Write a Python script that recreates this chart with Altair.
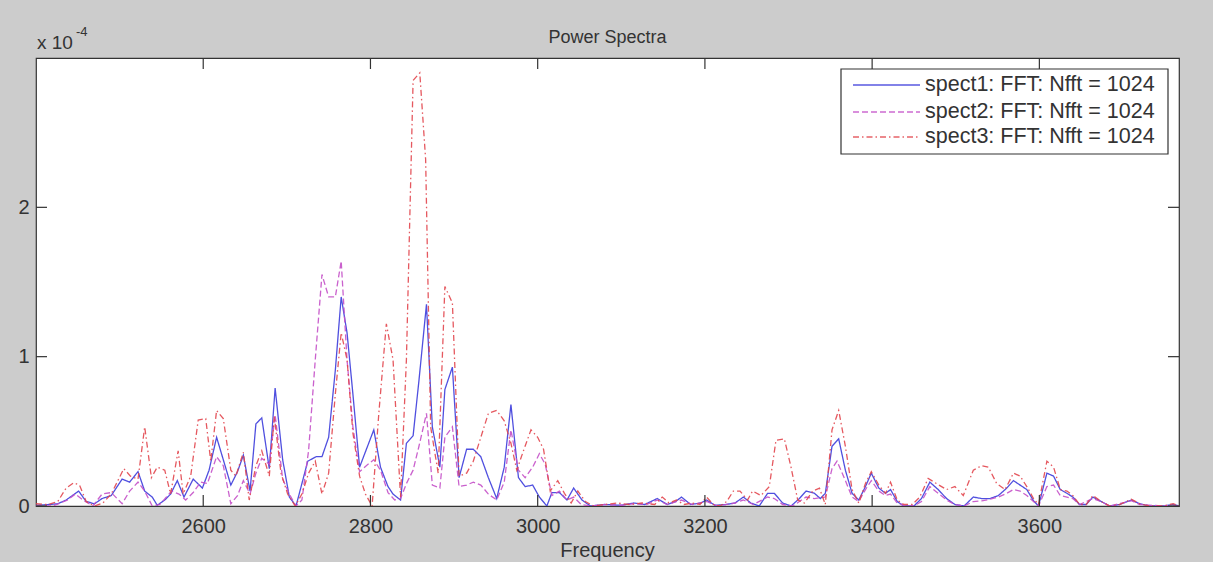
import altair as alt
import pandas as pd

# ---- data (power in units of 1e-4) ----
s1_freq = [2400, 2415, 2426, 2436, 2451, 2460, 2470, 2479, 2490, 2503, 2512, 2522, 2530, 2539, 2545, 2554,
           2561, 2569, 2577, 2588, 2599, 2607, 2616, 2624, 2633, 2641, 2648, 2656, 2663, 2670, 2679, 2686,
           2695, 2703, 2711, 2725, 2735, 2742, 2750, 2758, 2765, 2772, 2779, 2787, 2804, 2812, 2821, 2827,
           2836, 2843, 2851, 2858, 2867, 2874, 2883, 2889, 2898, 2906, 2915, 2923, 2932, 2941, 2951, 2960,
           2968, 2977, 2985, 2994, 3002, 3011, 3017, 3026, 3035, 3043, 3053, 3063, 3080, 3100, 3115, 3128,
           3143, 3155, 3165, 3172, 3183, 3195, 3202, 3212, 3225, 3236, 3246, 3255, 3265, 3275, 3283, 3293,
           3303, 3313, 3321, 3331, 3338, 3344, 3352, 3360, 3368, 3376, 3384, 3392, 3399, 3408, 3416, 3422,
           3430, 3438, 3450, 3459, 3469, 3479, 3489, 3499, 3510, 3521, 3531, 3541, 3551, 3561, 3569, 3577,
           3585, 3593, 3599, 3609, 3617, 3625, 3633, 3640, 3648, 3656, 3664, 3674, 3684, 3696, 3710, 3720,
           3732, 3748, 3760, 3767]
s1_val = [0.005, 0.01, 0.015, 0.04, 0.1, 0.03, 0.015, 0.05, 0.07, 0.18, 0.16, 0.23, 0.1, 0.06, 0.005, 0.04,
          0.08, 0.17, 0.06, 0.18, 0.12, 0.24, 0.46, 0.31, 0.14, 0.23, 0.34, 0.1, 0.55, 0.59, 0.25, 0.79,
          0.31, 0.06, 0.0, 0.3, 0.33, 0.33, 0.46, 0.91, 1.4, 1.16, 0.75, 0.26, 0.51, 0.26, 0.13, 0.08,
          0.04, 0.42, 0.47, 0.84, 1.35, 0.53, 0.26, 0.78, 0.93, 0.19, 0.38, 0.38, 0.33, 0.19, 0.05, 0.26,
          0.68, 0.19, 0.13, 0.14, 0.06, 0.0, 0.09, 0.09, 0.04, 0.12, 0.04, 0.0, 0.01, 0.005, 0.02, 0.01,
          0.05, 0.01, 0.03, 0.06, 0.01, 0.02, 0.04, 0.005, 0.01, 0.02, 0.06, 0.02, 0.0, 0.085, 0.085, 0.02,
          0.0, 0.05, 0.1, 0.085, 0.05, 0.085, 0.4, 0.45, 0.24, 0.085, 0.04, 0.13, 0.22, 0.12, 0.085, 0.11,
          0.03, 0.0, 0.0, 0.05, 0.16, 0.11, 0.05, 0.01, 0.0, 0.06, 0.05, 0.05, 0.07, 0.12, 0.17, 0.14,
          0.11, 0.035, 0.0, 0.22, 0.2, 0.11, 0.085, 0.06, 0.01, 0.01, 0.06, 0.03, 0.0, 0.01, 0.04, 0.015,
          0.0, 0.0, 0.01, 0.0]

s2_freq = [2400, 2420, 2438, 2447, 2456, 2468, 2479, 2490, 2503, 2512, 2522, 2530, 2539, 2548, 2556, 2562,
           2571, 2579, 2588, 2597, 2605, 2616, 2624, 2633, 2641, 2648, 2656, 2663, 2670, 2679, 2686, 2695,
           2703, 2711, 2718, 2726, 2734, 2742, 2750, 2758, 2765, 2772, 2779, 2787, 2795, 2804, 2812, 2821,
           2829, 2836, 2843, 2851, 2858, 2867, 2874, 2883, 2889, 2898, 2906, 2915, 2923, 2932, 2941, 2951,
           2960, 2968, 2977, 2985, 2994, 3002, 3009, 3017, 3026, 3035, 3043, 3052, 3063, 3080, 3100, 3115,
           3130, 3143, 3155, 3172, 3185, 3202, 3215, 3236, 3246, 3258, 3275, 3283, 3293, 3305, 3313, 3321,
           3331, 3344, 3352, 3358, 3368, 3376, 3384, 3392, 3399, 3408, 3416, 3422, 3430, 3440, 3450, 3459,
           3469, 3479, 3489, 3499, 3510, 3521, 3531, 3541, 3551, 3561, 3569, 3577, 3585, 3593, 3599, 3609,
           3617, 3625, 3633, 3640, 3648, 3664, 3674, 3684, 3710, 3720, 3748, 3767]
s2_val = [0.0, 0.0, 0.04, 0.08, 0.04, 0.0, 0.08, 0.09, 0.015, 0.1, 0.16, 0.1, 0.0, 0.01, 0.06, 0.1,
          0.08, 0.04, 0.09, 0.16, 0.15, 0.33, 0.27, 0.015, 0.07, 0.17, 0.08, 0.22, 0.32, 0.28, 0.61, 0.18,
          0.08, 0.0, 0.04, 0.37, 0.98, 1.55, 1.4, 1.4, 1.64, 0.98, 0.53, 0.23, 0.27, 0.31, 0.24, 0.09,
          0.04, 0.05, 0.15, 0.24, 0.4, 0.62, 0.14, 0.12, 0.46, 0.53, 0.13, 0.14, 0.16, 0.14, 0.08, 0.04,
          0.16, 0.51, 0.24, 0.19, 0.26, 0.35, 0.28, 0.07, 0.1, 0.04, 0.06, 0.01, 0.0, 0.01, 0.005, 0.015,
          0.01, 0.04, 0.01, 0.04, 0.01, 0.03, 0.0, 0.02, 0.04, 0.01, 0.06, 0.05, 0.01, 0.0, 0.03, 0.06,
          0.05, 0.06, 0.25, 0.3, 0.17, 0.06, 0.03, 0.11, 0.17, 0.1, 0.07, 0.08, 0.02, 0.0, 0.0, 0.03,
          0.13, 0.085, 0.04, 0.01, 0.0, 0.03, 0.035, 0.045, 0.06, 0.085, 0.11, 0.1, 0.07, 0.03, 0.0, 0.13,
          0.14, 0.07, 0.06, 0.05, 0.01, 0.05, 0.03, 0.0, 0.035, 0.01, 0.0, 0.0]

s3_freq = [2400, 2415, 2426, 2436, 2445, 2452, 2460, 2470, 2480, 2490, 2505, 2513, 2522, 2530, 2538, 2545,
           2554, 2561, 2570, 2576, 2585, 2594, 2603, 2609, 2616, 2624, 2633, 2639, 2648, 2655, 2663, 2670,
           2679, 2685, 2693, 2701, 2710, 2718, 2726, 2734, 2742, 2750, 2758, 2765, 2772, 2779, 2787, 2794,
           2802, 2810, 2819, 2827, 2836, 2843, 2851, 2859, 2866, 2872, 2881, 2889, 2898, 2906, 2915, 2923,
           2932, 2941, 2951, 2960, 2968, 2975, 2983, 2992, 3000, 3007, 3015, 3024, 3032, 3040, 3048, 3057,
           3067, 3080, 3095, 3110, 3125, 3140, 3149, 3157, 3166, 3175, 3185, 3194, 3202, 3210, 3218, 3226,
           3234, 3242, 3251, 3257, 3267, 3277, 3285, 3295, 3303, 3311, 3319, 3329, 3337, 3344, 3352, 3360,
           3368, 3376, 3384, 3392, 3399, 3408, 3416, 3422, 3430, 3438, 3448, 3457, 3467, 3477, 3489, 3499,
           3509, 3521, 3531, 3539, 3549, 3559, 3569, 3577, 3585, 3593, 3599, 3609, 3617, 3625, 3633, 3640,
           3648, 3656, 3664, 3674, 3684, 3696, 3710, 3720, 3732, 3748, 3760, 3767]
s3_val = [0.015, 0.01, 0.03, 0.12, 0.155, 0.14, 0.03, 0.0, 0.02, 0.08, 0.25, 0.2, 0.18, 0.53, 0.19, 0.26,
          0.24, 0.08, 0.37, 0.08, 0.2, 0.575, 0.585, 0.3, 0.64, 0.585, 0.24, 0.2, 0.36, 0.04, 0.27, 0.37,
          0.2, 0.6, 0.22, 0.08, 0.0, 0.08, 0.22, 0.3, 0.08, 0.22, 0.75, 1.16, 0.98, 0.49, 0.2, 0.08,
          0.0, 0.62, 1.22, 0.98, 0.06, 0.98, 2.85, 2.9, 2.32, 0.53, 0.22, 1.47, 1.36, 0.2, 0.22, 0.3,
          0.46, 0.62, 0.64, 0.57, 0.42, 0.24, 0.37, 0.51, 0.46, 0.38, 0.1, 0.17, 0.085, 0.02, 0.1, 0.03,
          0.0, 0.01, 0.02, 0.01, 0.02, 0.01, 0.06, 0.02, 0.04, 0.01, 0.02, 0.01, 0.06, 0.01, 0.0, 0.03,
          0.1, 0.1, 0.04, 0.1, 0.07, 0.13, 0.44, 0.45, 0.26, 0.04, 0.02, 0.1, 0.12, 0.01, 0.51, 0.64,
          0.4, 0.11, 0.02, 0.15, 0.23, 0.14, 0.085, 0.16, 0.04, 0.01, 0.01, 0.06, 0.185, 0.15, 0.11, 0.13,
          0.07, 0.24, 0.27, 0.26, 0.15, 0.11, 0.22, 0.2, 0.13, 0.05, 0.01, 0.3, 0.26, 0.11, 0.1, 0.07,
          0.01, 0.01, 0.07, 0.03, 0.0, 0.01, 0.045, 0.015, 0.0, 0.0, 0.015, 0.0]

labels = ["spect1: FFT: Nfft = 1024", "spect2: FFT: Nfft = 1024", "spect3: FFT: Nfft = 1024"]
colors = ["#3c3cdc", "#c450c8", "#e2464e"]
dashes = [[1, 0], [6, 3], [6, 3, 1.5, 3]]
x_ticks = [2600, 2800, 3000, 3200, 3400, 3600]
y_ticks = [0, 1, 2]

rows = []
for lab, fs, vs in zip(labels, [s1_freq, s2_freq, s3_freq], [s1_val, s2_val, s3_val]):
    for f, v in zip(fs, vs):
        rows.append({"freq": f, "power": v, "series": lab})
df = pd.DataFrame(rows)

W, H = 1143, 448
FONT = "Liberation Sans"
TXT = "#333333"

xscale = alt.Scale(domain=[2400, 3767], nice=False, zero=False)
yscale = alt.Scale(domain=[0, 3], nice=False, zero=True)

lines = alt.Chart(df).mark_line(strokeWidth=1.3, clip=True, opacity=0.9).encode(
    x=alt.X("freq:Q", scale=xscale,
            axis=alt.Axis(values=x_ticks, title=None, grid=False, ticks=False, tickSize=0, domain=False,
                          labelFontSize=20, labelColor=TXT, labelFont=FONT, labelPadding=10, format="d")),
    y=alt.Y("power:Q", scale=yscale,
            axis=alt.Axis(values=y_ticks, title=None, grid=False, ticks=False, tickSize=0, domain=False,
                          labelFontSize=20, labelColor=TXT, labelFont=FONT, labelPadding=7, format="d")),
    color=alt.Color("series:N", scale=alt.Scale(domain=labels, range=colors), legend=None),
    strokeDash=alt.StrokeDash("series:N", scale=alt.Scale(domain=labels, range=dashes), legend=None),
    detail="series:N",
)

xt = pd.DataFrame({"t": x_ticks})
yt = pd.DataFrame({"t": y_ticks})
TK = 11
tick_col = "#333333"
top_t = alt.Chart(xt).mark_rule(color=tick_col, strokeWidth=1.2).encode(
    x=alt.X("t:Q", scale=xscale), y=alt.value(0), y2=alt.value(TK))
bot_t = alt.Chart(xt).mark_rule(color=tick_col, strokeWidth=1.2).encode(
    x=alt.X("t:Q", scale=xscale), y=alt.value(H), y2=alt.value(H - TK))
left_t = alt.Chart(yt).mark_rule(color=tick_col, strokeWidth=1.2).encode(
    y=alt.Y("t:Q", scale=yscale), x=alt.value(0), x2=alt.value(TK))
right_t = alt.Chart(yt).mark_rule(color=tick_col, strokeWidth=1.2).encode(
    y=alt.Y("t:Q", scale=yscale), x=alt.value(W), x2=alt.value(W - TK))

# legend box
lx0, lx1, ly0, ly1 = 805, 1132, 11, 96
leg_box = alt.Chart(pd.DataFrame({"a": [0]})).mark_rect(
    fill="white", stroke="#333333", strokeWidth=1.2).encode(
    x=alt.value(lx0), x2=alt.value(lx1), y=alt.value(ly0), y2=alt.value(ly1))
leg_layers = [leg_box]
row_y = [27, 54, 79]
for lab, col, dsh, ry in zip(labels, colors, dashes, row_y):
    leg_layers.append(alt.Chart(pd.DataFrame({"a": [0]})).mark_rule(
        color=col, strokeDash=dsh, strokeWidth=1.3, opacity=0.85).encode(
        x=alt.value(817), x2=alt.value(884), y=alt.value(ry)))
    leg_layers.append(alt.Chart(pd.DataFrame({"a": [0]})).mark_text(
        text=lab, align="left", baseline="middle", fontSize=21.5, font=FONT, color=TXT).encode(
        x=alt.value(889), y=alt.value(ry)))

one = pd.DataFrame({"a": [0]})
title_t = alt.Chart(one).mark_text(text="Power Spectra", align="center", baseline="middle",
                                   fontSize=18, font=FONT, color=TXT).encode(
    x=alt.value(W / 2), y=alt.value(-20))
exp_a = alt.Chart(one).mark_text(text="x 10", align="left", baseline="middle",
                                 fontSize=19, font=FONT, color=TXT).encode(
    x=alt.value(1), y=alt.value(-15))
exp_b = alt.Chart(one).mark_text(text="-4", align="left", baseline="middle",
                                 fontSize=13, font=FONT, color=TXT).encode(
    x=alt.value(40), y=alt.value(-26))
xlab = alt.Chart(one).mark_text(text="Frequency", align="center", baseline="middle",
                                fontSize=20, font=FONT, color=TXT).encode(
    x=alt.value(W / 2), y=alt.value(H + 45))

chart = alt.layer(
    lines, top_t, bot_t, left_t, right_t, *leg_layers, title_t, exp_a, exp_b, xlab
).properties(
    width=W, height=H,
    autosize=alt.AutoSizeParams(type="none"),
    padding={"left": 36, "top": 58, "right": 34, "bottom": 56},
    background="#cccccc",
).configure_view(
    stroke="#333333", strokeWidth=1.2, fill="white"
)

chart.save("out.html", embed_options={"renderer": "svg", "actions": False})
